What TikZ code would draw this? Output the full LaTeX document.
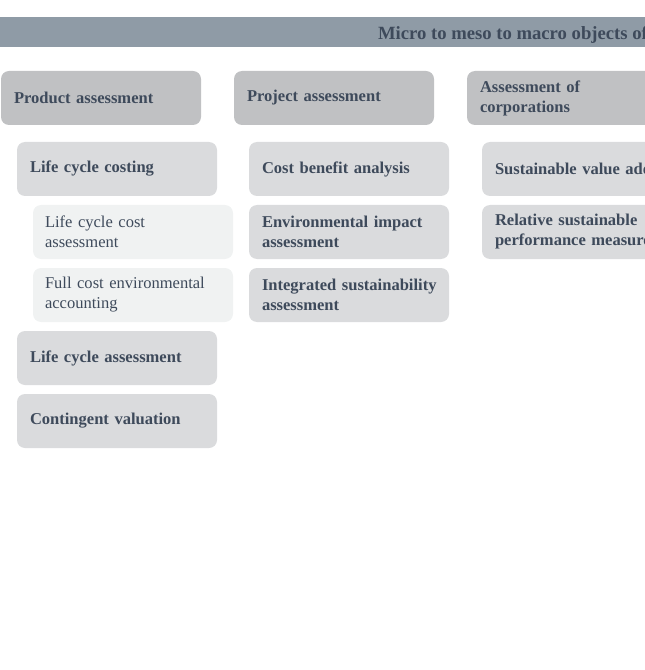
\documentclass[tikz,border=0pt]{standalone}
\usepackage{fontspec}
\setmainfont{Liberation Serif}
\usepackage{tikz}
\usetikzlibrary{positioning}
\definecolor{barfill}{HTML}{8F9BA6}
\definecolor{catfill}{HTML}{C0C1C3}
\definecolor{itemfill}{HTML}{DADBDD}
\definecolor{subfill}{HTML}{F0F2F2}
\definecolor{inkcol}{HTML}{3E4A5B}
\tikzset{
    every node/.style={ % Sets the properties for each box
        text=inkcol,
        rounded corners=6pt,
        outer sep=0pt,
        minimum width=150pt,
        minimum height=40.5pt,
        align=left,
        font=\fontsize{12.4}{15}\selectfont
    },
    catbox/.style={ % Column heads
        fill=catfill,
        text width=130.5pt,
        inner xsep=9.75pt,
        font=\fontsize{12.4}{15}\selectfont\bfseries
    },
    itembox/.style={ % Methods
        fill=itemfill,
        text width=130.5pt,
        inner xsep=9.75pt,
        font=\fontsize{12.4}{15}\selectfont\bfseries
    },
    subbox/.style={ % Sub methods
        fill=subfill,
        text width=132pt,
        inner xsep=9pt
    }
}
\begin{document}
\begin{tikzpicture}
            \useasboundingbox (0,0) rectangle (483.75pt,-502.5pt);
            \clip (0,0) rectangle (483.75pt,-502.5pt);
            \fill[barfill] (0,-12.75pt) rectangle (520pt,-35.25pt);
            \node[anchor=base west, minimum width=0pt, minimum height=0pt, inner sep=0pt,
                  font=\fontsize{14}{16}\selectfont\bfseries] (title) at (283.5pt,-30pt)
                  {Micro to meso to macro objects of assessment};

            \node[catbox, anchor=north west] (prod) at (0.75pt,-53.25pt) {Product assessment};
            \node[catbox, right=24.75pt of prod] (proj) {Project assessment};
            \node[catbox, right=24.75pt of proj] (corp) {Assessment of\\corporations};

            \node[itembox, below=12.75pt of prod.south west, xshift=12pt, anchor=north west] (lcc) {Life cycle costing};
            \node[subbox, below=6.75pt of lcc.south west, xshift=12pt, anchor=north west] (lcca) {Life cycle cost\\assessment};
            \node[subbox, below=6.75pt of lcca] (fcea) {\mbox{Full cost environmental}\\accounting};
            \node[itembox, below=6.75pt of fcea.south west, xshift=-12pt, anchor=north west] (lca) {Life cycle assessment};
            \node[itembox, below=6.75pt of lca] (cv) {Contingent valuation};

            \node[itembox, below=12.75pt of proj.south west, xshift=11.25pt, anchor=north west] (cba) {Cost benefit analysis};
            \node[itembox, below=6.75pt of cba] (eia) {\mbox{Environmental impact}\\assessment};
            \node[itembox, below=6.75pt of eia] (isa) {\mbox{Integrated sustainability}\\assessment};

            \node[itembox, below=12.75pt of corp.south west, xshift=11.25pt, anchor=north west] (sva) {\mbox{Sustainable value added}};
            \node[itembox, below=6.75pt of sva] (rspm) {Relative sustainable\\\mbox{performance measure}};
        \end{tikzpicture}
\end{document}
